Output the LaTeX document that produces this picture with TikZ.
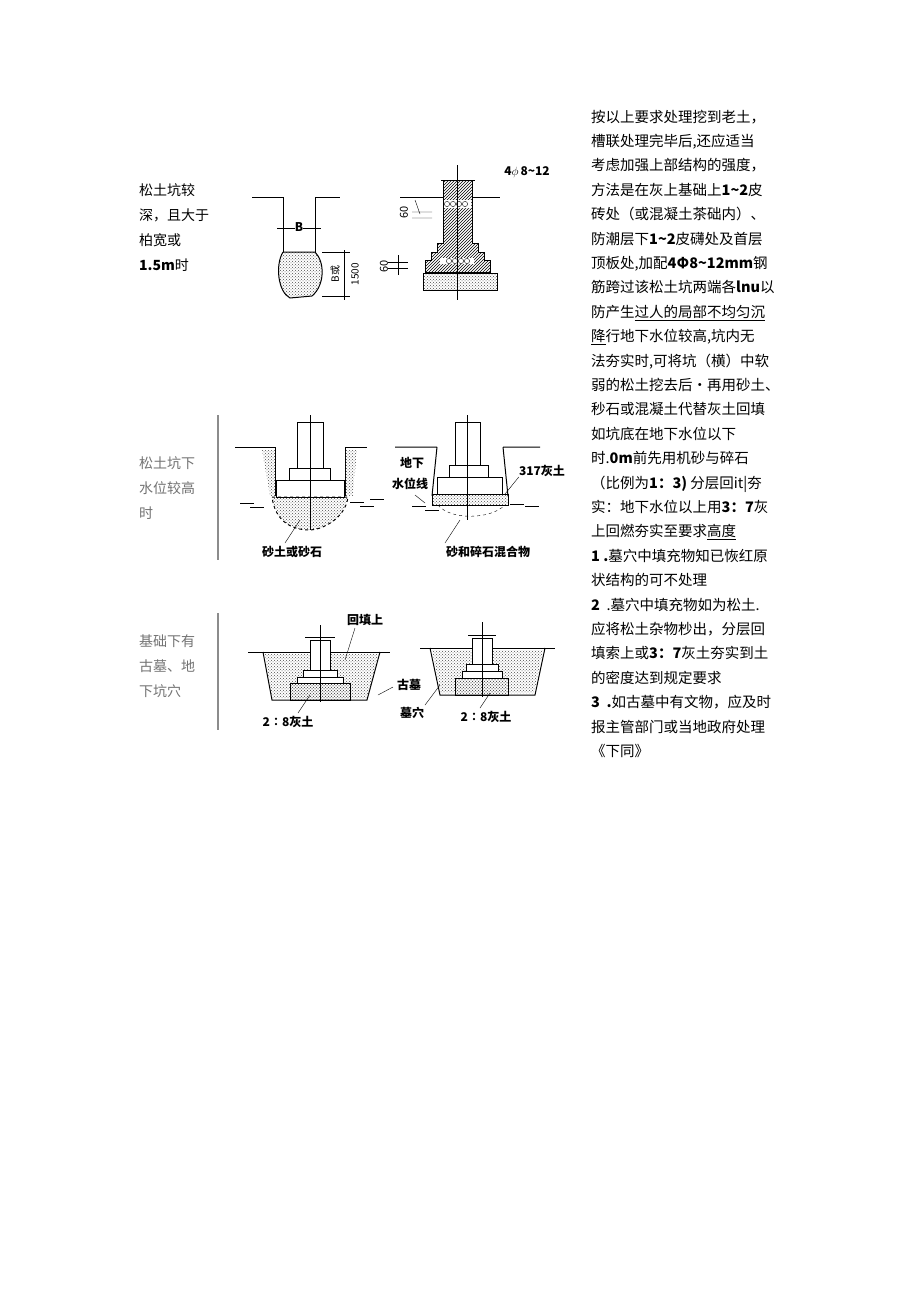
\documentclass[tikz,border=0pt]{standalone}
\usepackage{fontspec}
\setmainfont{Noto Sans CJK SC}
\usetikzlibrary{patterns}
\begin{document}
\begin{tikzpicture}[x=1pt,y=-1pt,
  txt/.style={anchor=base west,inner sep=0pt,font=\fontsize{14.5}{16}\selectfont},
  lab/.style={anchor=base west,inner sep=0pt,font=\fontsize{14}{16}\selectfont},
  glab/.style={lab,text=black!55},
  fig/.style={font=\bfseries\fontsize{12}{14}\selectfont,inner sep=0pt},
  ln/.style={line width=1pt},
  dots/.style={pattern=crosshatch dots,pattern color=black!70},
  hatch/.style={pattern=north east lines}]
\useasboundingbox (0,0) rectangle (920,1301);
\fill[white] (0,0) rectangle (920,1301);
% right column
\foreach \t [count=\i] in {
按以上要求处理挖到老土，,
槽联处理完毕后{,}还应适当,
考虑加强上部结构的强度，,
方法是在灰上基础上\textbf{1\char`~2}皮,
砖处（或混凝土茶础内）、,
防潮层下\textbf{1\char`~2}皮礴处及首层,
顶板处{,}加配\textbf{4Φ8\char`~12mm}钢,
筋跨过该松土坑两端各\textbf{lnu}以,
防产生\underline{过人的局部不均匀沉},
\underline{降}行地下水位较高{,}坑内无,
法夯实时{,}可将坑（横）中软,
弱的松土挖去后•再用砂土、,
秒石或混凝土代替灰土回填,
如坑底在地下水位以下,
时{.}\textbf{0m}前先用机砂与碎石,
（比例为\textbf{1：3)}\ 分层回\textit{it}|夯,
实：地下水位以上用\textbf{3：7}灰,
上回燃夯实至要求\underline{高度},
\textbf{1 .}墓穴中填充物知已恢红原,
状结构的可不处理,
\textbf{2}\ \ .墓穴中填充物如为松土.,
应将松土杂物杪出，分层回,
填索上或\textbf{3：7}灰土夯实到土,
的密度达到规定要求,
\textbf{3}\ \ \textbf{.}如古墓中有文物，应及时,
报主管部门或当地政府处理,
《下同》}
{\node[txt] (r\i) at (591,{122+24.4*(\i-1)}) {\t};}
% left labels
\node[lab] (a1) at (139,195) {松土坑较};
\node[lab] (a2) at (139,220) {深，且大于};
\node[lab] (a3) at (139,245) {柏宽或};
\node[lab] (a4) at (139,270) {\textbf{1.5m}时};
\node[glab] (b1) at (139,468) {松土坑下};
\node[glab] (b2) at (139,493) {水位较高};
\node[glab] (b3) at (139,518) {时};
\node[glab] (c1) at (139,646) {基础下有};
\node[glab] (c2) at (139,671) {古墓、地};
\node[glab] (c3) at (139,696) {下坑穴};
\draw[black!45,line width=1.2pt] (218,415) -- (218,560) (218,613) -- (218,730);
% ---------- fig 1a
\draw[ln] (252,197) -- (283,197) -- (283,252) (315,252) -- (315,197) -- (340,197);
\draw[dots,ln] (283,252) -- (315,252) .. controls (325,262) and (325,285) .. (312,296)
  -- (290,298) .. controls (278,292) and (275,265) .. (283,252);
\draw (277,228) -- (321,228);
\node[fig,font=\itshape\bfseries\fontsize{12}{14}\selectfont,fill=white] (B) at (299,227) {B};
\draw (322,252) -- (350,252) (322,296) -- (350,296) (344,250) -- (344,300);
\node[fig,rotate=90,font=\fontsize{10}{12}\selectfont] (Bd) at (335,274) {\textit{B}或};
\node[fig,rotate=90,font=\fontsize{10}{12}\selectfont] (d1500) at (355,274) {1500};
% ---------- fig 1b
\draw[ln] (400,197) -- (443,197) (472,197) -- (500,197);
\draw[ln] (441,180) -- (475,180);
\draw[ln,hatch] (443,180) -- (472,180) -- (472,243) -- (478,243) -- (478,252) -- (484,252) -- (484,260) -- (490,260) -- (490,272)
 -- (425,272) -- (425,260) -- (431,260) -- (431,252) -- (437,252) -- (437,243) -- (443,243) -- cycle;
\fill[white] (444,200) rectangle (471,208) (440,258) rectangle (474,264);
\foreach \x in {447,453,459,465}{\draw (\x,204) circle (2.6);\draw (\x+2,261) circle (2.6);}
\draw[ln,dots] (423,273) rectangle (497,290);
\draw (457,165) -- (457,300);
\node[fig] (lbl48) at (527,172) {4$\phi$\,8\char`~12};
\draw (415,200) -- (420,214) (412,212) -- (432,212) (412,218) -- (432,218);
\node[fig,rotate=90,font=\fontsize{11}{13}\selectfont] (s60a) at (404,212) {60};
\draw (388,262) -- (408,262) (388,268) -- (408,268) (398,255) -- (398,275);
\node[fig,rotate=90,font=\fontsize{11}{13}\selectfont] (s60b) at (384,266) {60};
% ---------- fig 2a
\draw[ln] (235,447) -- (275,447) -- (275,496) (345,496) -- (345,447) -- (367,447);
\fill[dots] (262,450) -- (275,450) -- (275,496) -- (270,496) -- cycle;
\fill[dots] (345,450) -- (357,450) -- (353,496) -- (345,496) -- cycle;
\draw[ln,fill=white] (297,422) rectangle (323,468);
\draw[ln,fill=white] (289,468) rectangle (330,480);
\draw[ln,fill=white] (276,480) rectangle (344,497);
\draw[ln,dashed,dots] (272,497) -- (348,497) .. controls (345,520) and (320,530) .. (310,530) .. controls (290,530) and (275,520) .. (272,497);
\draw (310,415) -- (310,530);
\foreach \x/\y in {240/503,250/507,350/502,360/506,370/499}{\draw (\x,\y) -- (\x+14,\y);}
\draw (300,520) -- (285,543);
\node[fig] (t2a) at (292,552) {砂土或砂石};
% ---------- fig 2b
\draw[ln] (395,447) -- (437,447) (432,496) -- (437,447) (503,447) -- (508,496) (503,447) -- (540,447);
\draw[ln,fill=white] (455,422) rectangle (480,465);
\draw[ln,fill=white] (449,465) rectangle (488,477);
\draw[ln,fill=white] (437,477) rectangle (502,494);
\draw[ln,dots] (432,494) rectangle (508,505);
\draw[dashed] (438,505) .. controls (450,520) and (490,520) .. (505,505);
\draw (467,415) -- (467,520);
\foreach \x/\y in {412/506,425/510,510/504,525/506}{\draw (\x,\y) -- (\x+14,\y);}
\node[fig] (t2b1) at (412,463) {地下};
\node[fig] (t2b2) at (410,484) {水位线};
\draw (415,495) -- (425,503);
\node[fig] (t2b3) at (542,471) {317灰土};
\draw (t2b3.south west) -- (505,494);
\draw (460,520) -- (445,543);
\node[fig] (t2b4) at (488,552) {砂和碎石混合物};
% ---------- fig 3a
\draw[ln] (248,652) -- (390,652);
\draw[ln] (263,652) -- (272,700) -- (367,700) -- (380,652);
\fill[dots] (265,654) -- (378,654) -- (368,698) -- (272,698) -- cycle;
\draw[ln,fill=white] (310,640) rectangle (330,677);
\draw[ln] (305,637) -- (335,637);
\draw[ln,fill=white] (303,670) rectangle (337,677);
\draw[ln,fill=white] (297,677) rectangle (343,683);
\draw[ln,dots] (290,683) rectangle (350,700);
\draw (320,625) -- (320,702);
\node[fig] (t3a1) at (365,620) {回填上};
\draw (355,628) -- (345,660);
\node[fig] (t3a2) at (409,685) {古墓};
\draw (393,687) -- (378,695);
\node[fig] (t3a3) at (288,722) {2∶8灰土};
\draw (298,713) -- (310,695);
% ---------- fig 3b
\draw[ln] (420,648) -- (555,648);
\draw[ln] (430,648) -- (440,695) -- (535,695) -- (545,648);
\fill[dots] (432,650) -- (543,650) -- (534,693) -- (441,693) -- cycle;
\draw[ln,fill=white] (472,638) rectangle (492,670);
\draw[ln] (468,635) -- (496,635);
\draw[ln,fill=white] (466,664) rectangle (498,671);
\draw[ln,fill=white] (462,671) rectangle (502,678);
\draw[ln,dots] (455,678) rectangle (508,695);
\draw (482,622) -- (482,697);
\node[fig] (t3b1) at (412,713) {墓穴};
\draw (425,705) -- (440,685);
\node[fig] (t3b2) at (486,717) {2∶8灰土};
\draw (480,708) -- (490,693);
\end{tikzpicture}
\end{document}
